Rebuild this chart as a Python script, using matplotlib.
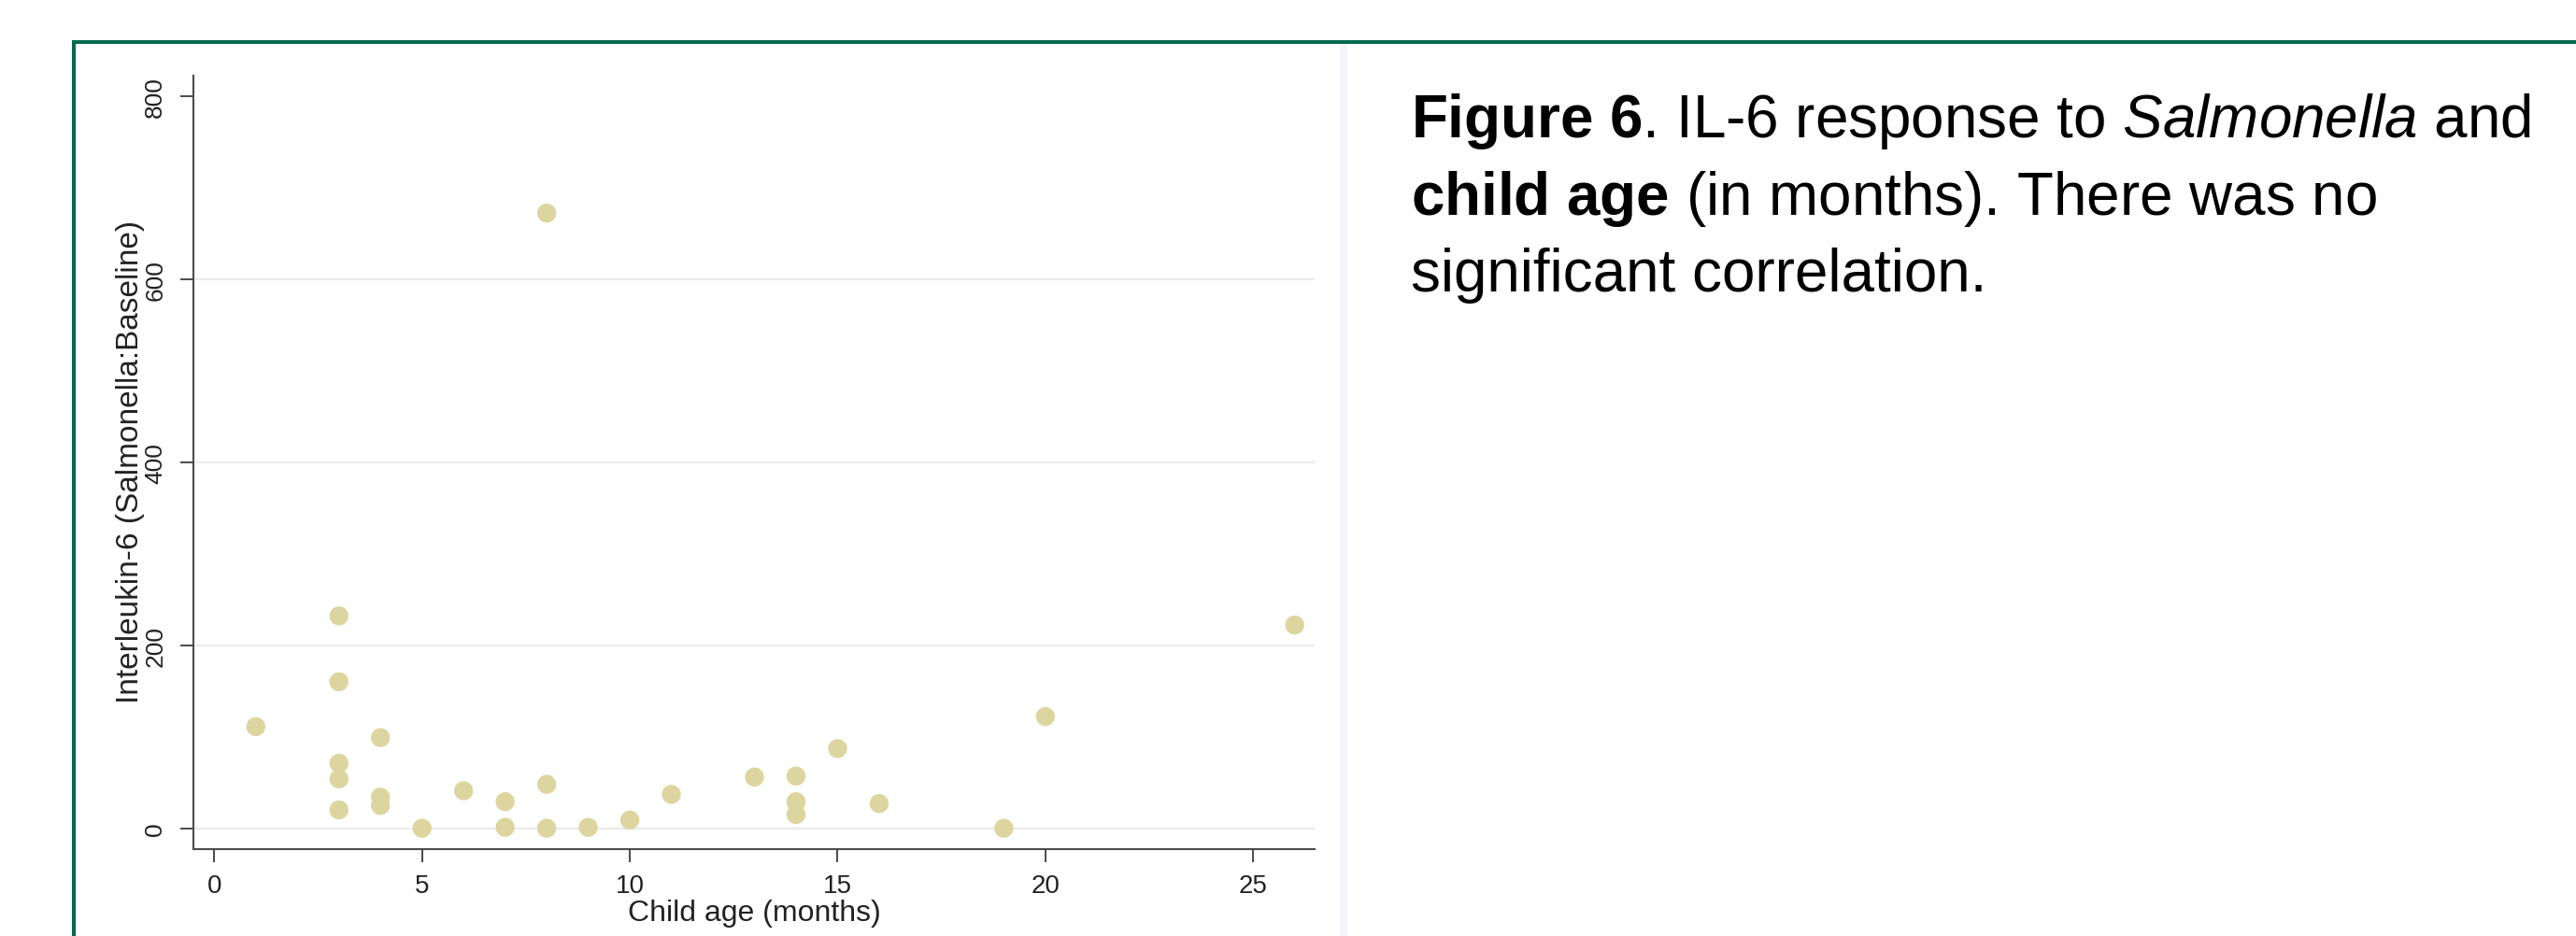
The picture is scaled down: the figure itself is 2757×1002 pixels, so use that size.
import matplotlib
matplotlib.use('Agg')
import matplotlib.pyplot as plt
from matplotlib.patches import Rectangle
from matplotlib.lines import Line2D

# ---- data ----
age_months = [1, 3, 3, 3, 3, 3, 4, 4, 4, 5, 6, 7, 7, 8, 8, 8, 9, 10, 11, 13,
              14, 14, 14, 15, 16, 19, 20, 26]
il6_ratio = [111, 232, 160, 71, 54, 20, 99, 34, 25, 0, 41, 29, 1, 48, 0, 672,
             1, 9, 37, 56, 57, 29, 15, 87, 27, 0, 122, 222]
x_ticks = [0, 5, 10, 15, 20, 25]
y_ticks = [0, 200, 400, 600, 800]
x_label = "Child age (months)"
y_label = "Interleukin-6 (Salmonella:Baseline)"
caption_lines = [
    r"$\mathbf{Figure\ 6}$. IL-6 response to $\mathit{Salmonella}$ and",
    r"$\mathbf{child\ age}$ (in months). There was no",
    "significant correlation.",
]

plt.rcParams['font.family'] = ['Liberation Sans', 'DejaVu Sans']
plt.rcParams['mathtext.fontset'] = 'custom'
plt.rcParams['mathtext.rm'] = 'Liberation Sans'
plt.rcParams['mathtext.bf'] = 'Liberation Sans:bold'
plt.rcParams['mathtext.it'] = 'Liberation Sans:italic'

W, H = 2757, 1003
fig = plt.figure(figsize=(W / 100, H / 100), dpi=100)
fig.patch.set_facecolor('white')


def fx(px):
    return px / W


def fy(py):
    return 1 - py / H


# ---- frame decorations ----
green = '#006A4E'
fig.add_artist(Line2D([fx(1438), fx(1438)], [0, fy(48)], transform=fig.transFigure,
                      color='#F3F4F8', lw=5.5, solid_capstyle='butt', zorder=0))
fig.add_artist(Rectangle((fx(77), fy(48)), fx(W) - fx(77), 4 / H,
                         transform=fig.transFigure, color=green, lw=0, zorder=5))
fig.add_artist(Rectangle((fx(77), 0), 4 / W, fy(44),
                         transform=fig.transFigure, color=green, lw=0, zorder=5))

# ---- scatter axes ----
left, right, bottom, top = 207.3, 1407, 910, 81.7
ax = fig.add_axes([fx(left), fy(bottom), fx(right) - fx(left), fy(top) - fy(bottom)])
ax.set_facecolor('white')
ax.set_xlim(-0.495, 26.48)
ax.set_ylim(-22.8, 822.4)

ax.scatter(age_months, il6_ratio, s=215, color='#DDD59F', edgecolors='none', zorder=3)

for side in ['top', 'right']:
    ax.spines[side].set_visible(False)
for side in ['left', 'bottom']:
    ax.spines[side].set_color('#4A4A4A')
    ax.spines[side].set_linewidth(1.5)

ax.set_xticks(x_ticks)
ax.set_yticks(y_ticks)
ax.set_xticklabels([str(v) for v in x_ticks])
ax.set_yticklabels([str(v) for v in y_ticks])
ax.tick_params(axis='both', direction='out', length=10, width=1.4, color='#4A4A4A',
               labelcolor='#222222')
ax.tick_params(axis='x', labelsize=20, pad=9)
ax.tick_params(axis='y', labelsize=19, pad=11, labelrotation=90)
for lbl in ax.get_yticklabels():
    lbl.set_va('center')

ax.grid(axis='y', color='#EBEBEB', lw=1.6, zorder=0)
ax.set_axisbelow(True)
ygl = ax.get_ygridlines()
ygl[-1].set_visible(False)

ax.set_xlabel(x_label, fontsize=23, color='#222222')
ax.xaxis.label.set_va('center')
ax.xaxis.set_label_coords(0.5, (bottom - 978) / (bottom - top))
ax.set_ylabel(y_label, fontsize=24, color='#222222')
ax.yaxis.label.set_va('center')
ax.yaxis.set_label_coords((140 - left) / (right - left), (bottom - 494) / (bottom - top))

# ---- caption text (fitted to the measured width of line 1) ----
renderer = fig.canvas.get_renderer()
probe = fig.text(0, 0, caption_lines[0], fontsize=46)
w = probe.get_window_extent(renderer).width
probe.remove()
size = 46 * 1200 / w

baselines = [147, 230, 312]
for line, yb in zip(caption_lines, baselines):
    fig.text(fx(1510), fy(yb), line, fontsize=size, color='black',
             ha='left', va='baseline')

fig.savefig('out.png', dpi=100, facecolor='white')
